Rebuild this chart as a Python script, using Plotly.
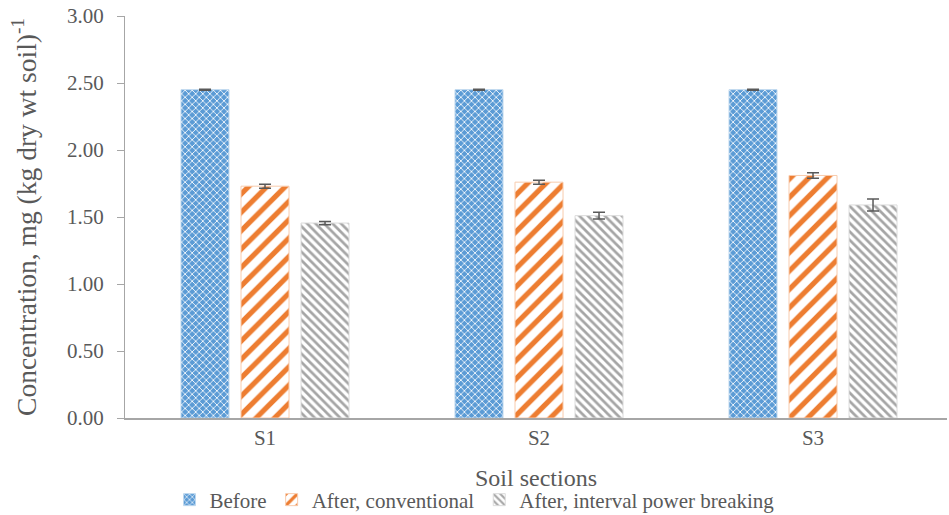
import plotly.graph_objects as go

categories = ["S1", "S2", "S3"]
before = [2.45, 2.45, 2.45]
before_err = [0.004, 0.004, 0.004]
conventional = [1.73, 1.76, 1.81]
conventional_err = [0.015, 0.015, 0.02]
interval = [1.455, 1.51, 1.59]
interval_err = [0.012, 0.025, 0.045]

font = "Liberation Serif, Times New Roman, serif"
ecol = "#595959"
tcol = "#595959"

fig = go.Figure()
fig.add_trace(go.Bar(
    name="Before", x=categories, y=before,
    error_y=dict(type="data", array=before_err, color=ecol, thickness=1.5, width=6),
    marker=dict(color="#5B9BD5", line=dict(color="#BDD7EE", width=1),
                pattern=dict(shape="x", fillmode="replace", bgcolor="#5B9BD5",
                             fgcolor="#FFFFFF", size=5, solidity=0.3)),
))
fig.add_trace(go.Bar(
    name="After, conventional", x=categories, y=conventional,
    error_y=dict(type="data", array=conventional_err, color=ecol, thickness=1.5, width=6),
    marker=dict(color="#ED7D31", line=dict(color="#F8CBAD", width=1),
                pattern=dict(shape="/", fillmode="replace", bgcolor="#FFFFFF",
                             fgcolor="#ED7D31", size=13, solidity=0.4)),
))
fig.add_trace(go.Bar(
    name="After, interval power breaking", x=categories, y=interval,
    error_y=dict(type="data", array=interval_err, color=ecol, thickness=1.5, width=6),
    marker=dict(color="#A5A5A5", line=dict(color="#DBDBDB", width=1),
                pattern=dict(shape="\\", fillmode="replace", bgcolor="#FFFFFF",
                             fgcolor="#A5A5A5", size=6, solidity=0.45)),
))

fig.update_layout(
    width=949, height=515,
    margin=dict(l=125, r=2, t=16, b=97, autoexpand=False),
    paper_bgcolor="white", plot_bgcolor="white",
    font=dict(family=font, size=21, color=tcol),
    barmode="group", bargap=0.343, bargroupgap=0.2,
    showlegend=True,
    legend=dict(orientation="h", x=0.5, xanchor="center", xref="container",
                y=-0.153, yanchor="top", yref="paper",
                font=dict(family=font, size=21, color=tcol), itemwidth=30,
                tracegroupgap=0),
    xaxis=dict(
        range=[-0.511, 2.489],
        showline=True, linecolor="#A6A6A6", linewidth=1.5, ticks="",
        tickfont=dict(family=font, size=21, color=tcol),
    ),
    yaxis=dict(
        title=dict(text="Concentration, mg (kg dry wt soil)<sup>-1</sup>",
                   font=dict(family=font, size=27.5, color=tcol), standoff=22),
        range=[0, 3], dtick=0.5, tickformat=".2f",
        showgrid=False, zeroline=False,
        showline=True, linecolor="#A6A6A6", linewidth=1, ticks="outside",
        ticklen=7, tickcolor="#A6A6A6", ticklabelstandoff=9,
        tickfont=dict(family=font, size=21, color=tcol),
    ),
    annotations=[dict(text="Soil sections", xref="paper", yref="paper",
                      x=0.5, y=-0.149, xanchor="center", yanchor="middle",
                      showarrow=False,
                      font=dict(family=font, size=24, color=tcol))],
)

fig.write_html("out.html", config={"displayModeBar": False},
               post_script="document.body.style.margin='0';")
